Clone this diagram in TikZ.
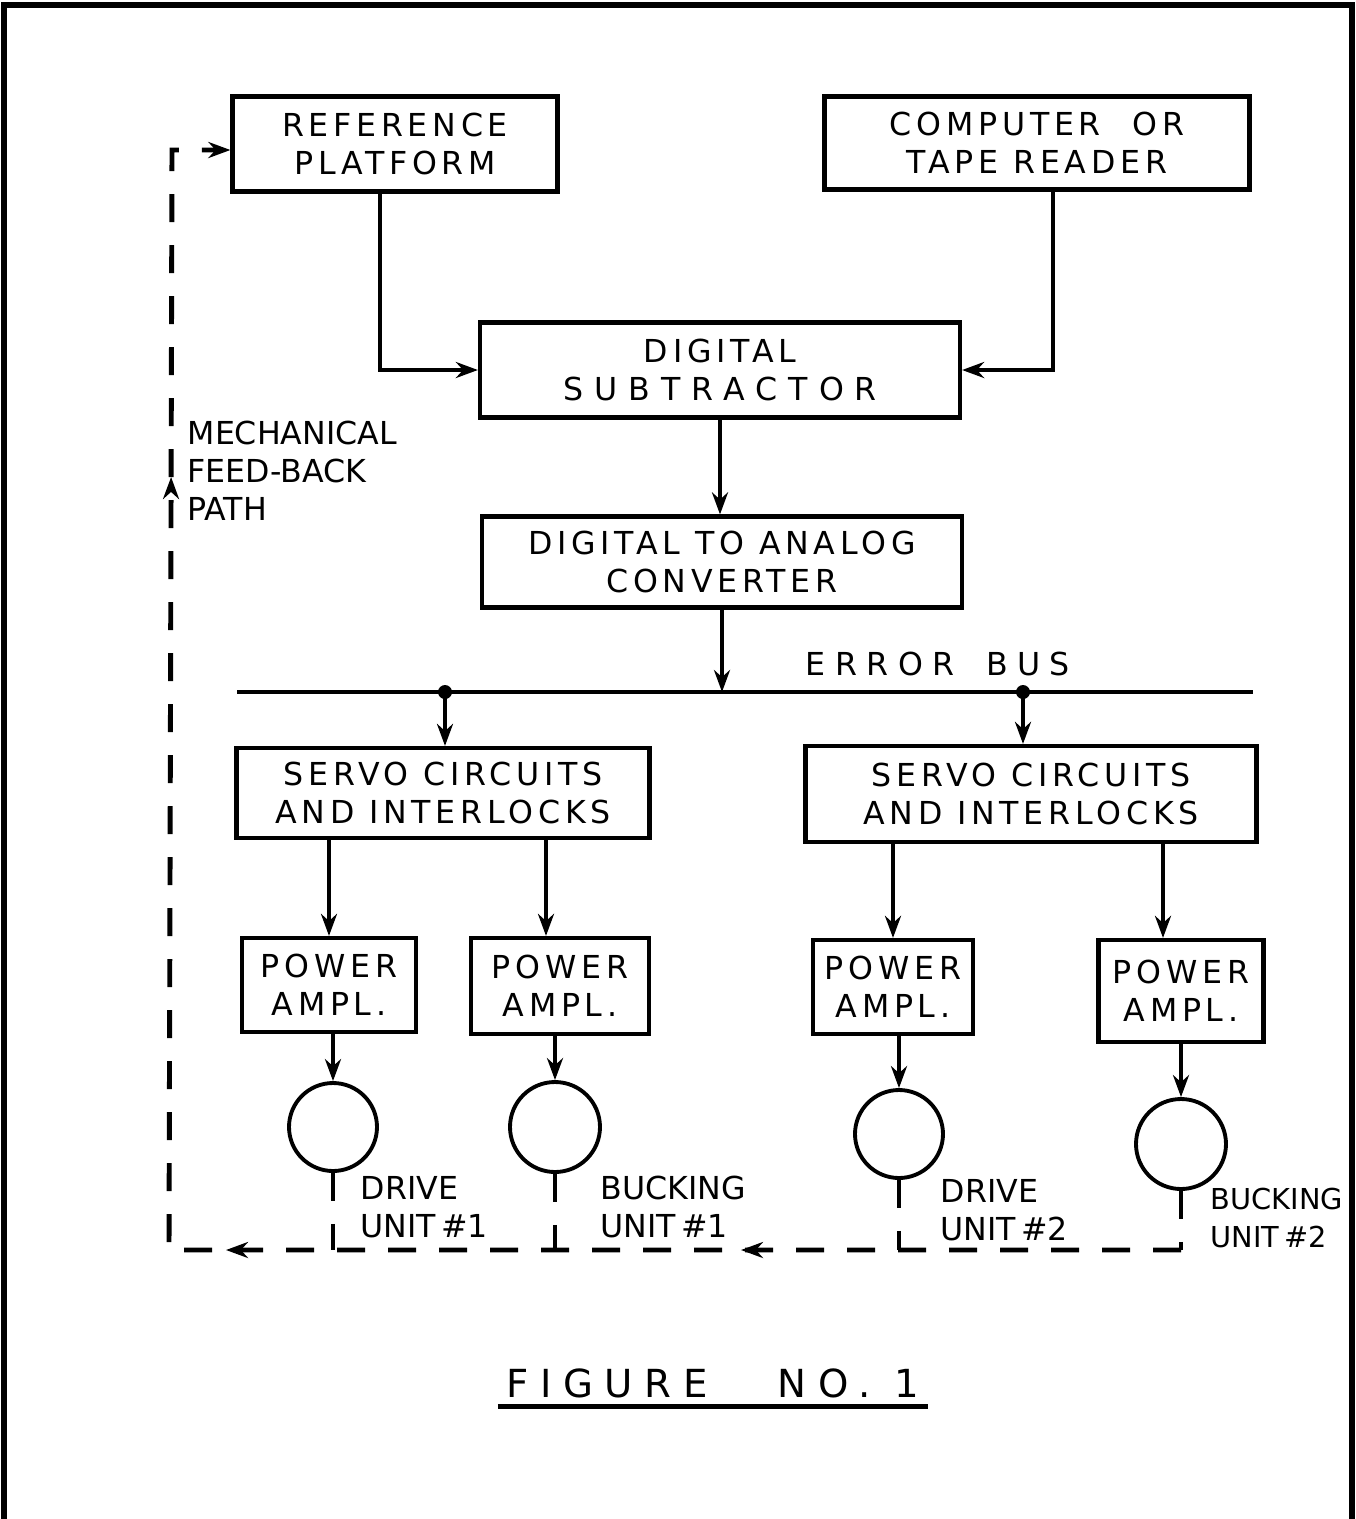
\documentclass[tikz,border=0pt]{standalone}
\usepackage{fontspec}
\usepackage{tikz}
\usetikzlibrary{arrows.meta, positioning, decorations.markings}

\newfontfamily\handfont{DejaVu Sans}[LetterSpace=15]
\newcommand{\handtext}{\handfont\fontsize{9}{10.8}\selectfont}

\begin{document}
\begin{tikzpicture}[x=0.1mm, y=-0.1mm, >={Stealth[length=2.2mm, width=1.6mm]},
		main/.style = {draw, rectangle, line width=1.2pt, align=center, font=\handtext},
		motor/.style = {draw, circle, line width=1.1pt, inner sep=0pt},
		link/.style = {->, line width=1.1pt},
		fb/.style = {line width=1.4pt, dash pattern=on 2.8mm off 2.3mm},
		note/.style = {align=left, inner sep=0pt, font=\handtext},
		tight/.style = {note, font={\handtext\addfontfeature{LetterSpace=0}}}]
		\useasboundingbox (0,0) rectangle (1356,1519);
		\draw[line width=1.6pt] (4,1519) -- (4,5) -- (1352,5) -- (1352,1519);
		% blocks
		\node[main, minimum width=32.5mm, minimum height=9.5mm] (1) at (395,144) {REFERENCE\\PLATFORM};
		\node[main, minimum width=42.5mm, minimum height=9.3mm] (2) at (1037,143) {COMPUTER\quad OR\\TAPE READER};
		\node[main, minimum width=48mm, minimum height=9.5mm] (3) at (720,370) {DIGITAL\\{\addfontfeature{LetterSpace=35}SUBTRACTOR}};
		\node[main, minimum width=48mm, minimum height=9.1mm] (4) at (722,562) {DIGITAL TO ANALOG\\CONVERTER};
		\node[main, minimum width=41.3mm, minimum height=9mm] (5) at (443,793) {SERVO CIRCUITS\\AND INTERLOCKS};
		\node[main, minimum width=45.1mm, minimum height=9.6mm] (6) at (1031,794) {SERVO CIRCUITS\\AND INTERLOCKS};
		\node[main, minimum width=17.4mm, minimum height=9.4mm] (7) at (329,985) {POWER\\AMPL.};
		\node[main, minimum width=17.8mm, minimum height=9.6mm] (8) at (560,986) {POWER\\AMPL.};
		\node[main, minimum width=15.6mm, minimum height=9.4mm] (9) at (893,987) {POWER\\AMPL.};
		\node[main, minimum width=16.5mm, minimum height=10.2mm] (10) at (1181,991) {POWER\\AMPL.};
		\node[motor, minimum size=8.8mm] (11) at (333,1127) {};
		\node[motor, minimum size=9mm] (12) at (555,1127) {};
		\node[motor, minimum size=8.8mm] (13) at (899,1134) {};
		\node[motor, minimum size=9mm] (14) at (1181,1144) {};
		% error bus
		\coordinate (bl) at (237,692);
		\coordinate (br) at (1253,692);
		\coordinate (t1) at (445,692);
		\coordinate (t2) at (1023,692);
		\draw[line width=1.3pt] (bl) -- (br);
		\fill (t1) circle (0.7mm);
		\fill (t2) circle (0.7mm);
		\node[note, anchor=west, font={\handtext\addfontfeature{LetterSpace=30}}] (bus) at (805,664) {ERROR\quad BUS};
		% signal paths
		\draw[link] ([xshift=-1.5mm]1.south) |- (3);
		\draw[link] ([xshift=1.6mm]2.south) |- (3);
		\draw[link] (3.south) -- (3.south |- 4.north);
		\draw[link] (4.south) -- (4.south |- bl);
		\draw[link] (t1) -- (t1 |- 5.north);
		\draw[link] (t2) -- (t2 |- 6.north);
		\draw[link] (5.south -| 7) -- (7);
		\draw[link] ([xshift=-1.4mm]5.south -| 8) -- ([xshift=-1.4mm]8.north);
		\draw[link] (6.south -| 9) -- (9);
		\draw[link] ([xshift=-1.8mm]6.south -| 10) -- ([xshift=-1.8mm]10.north);
		\draw[link] (11 |- 7.south) -- (11);
		\draw[link] (12 |- 8.south) -- (12);
		\draw[link] (13 |- 9.south) -- (13);
		\draw[link] (14 |- 10.south) -- (14);
		% mechanical feed-back
		\coordinate (base) at (0,1250);
		\coordinate (fbc) at (169,1250);
		\coordinate (fbt) at (172,150);
		\draw[fb] (11.south) -- (11.south |- base);
		\draw[fb] (12.south) -- (12.south |- base);
		\draw[fb] (13.south) -- (13.south |- base);
		\draw[fb] (14.south) -- (14.south |- base);
		\draw[fb, ->, postaction={decorate}, decoration={markings,
			mark=at position 44mm with {\arrow{Stealth[length=2.2mm, width=1.6mm]}},
			mark=at position 95.5mm with {\arrow{Stealth[length=2.2mm, width=1.6mm]}},
			mark=at position 178.5mm with {\arrow{Stealth[length=2.2mm, width=1.6mm]}}}]
			(14.south |- base) -- (fbc) -- (fbt) -- (fbt -| 1.west);
		% labels
		\node[tight, anchor=north west] (path) at (187,420) {MECHANICAL\\FEED-BACK\\PATH};
		\node[tight, anchor=west] (u1) at (360,1207) {DRIVE\\UNIT\,\#1};
		\node[tight, anchor=west] (u2) at (600,1207) {BUCKING\\UNIT\,\#1};
		\node[tight, anchor=west] (u3) at (940,1210) {DRIVE\\UNIT\,\#2};
		\node[tight, anchor=west, font={\handfont\addfontfeature{LetterSpace=0}\fontsize{8.2}{10.8}\selectfont}] (u4) at (1210,1218) {BUCKING\\UNIT\,\#2};
		\node[inner sep=0.8mm, font={\handfont\addfontfeature{LetterSpace=30}\fontsize{11}{13}\selectfont}] (cap) at (713,1383) {FIGURE\hspace{7mm}NO. 1};
		\draw[line width=1.3pt] (cap.south west) -- (cap.south east);
	\end{tikzpicture}
\end{document}
